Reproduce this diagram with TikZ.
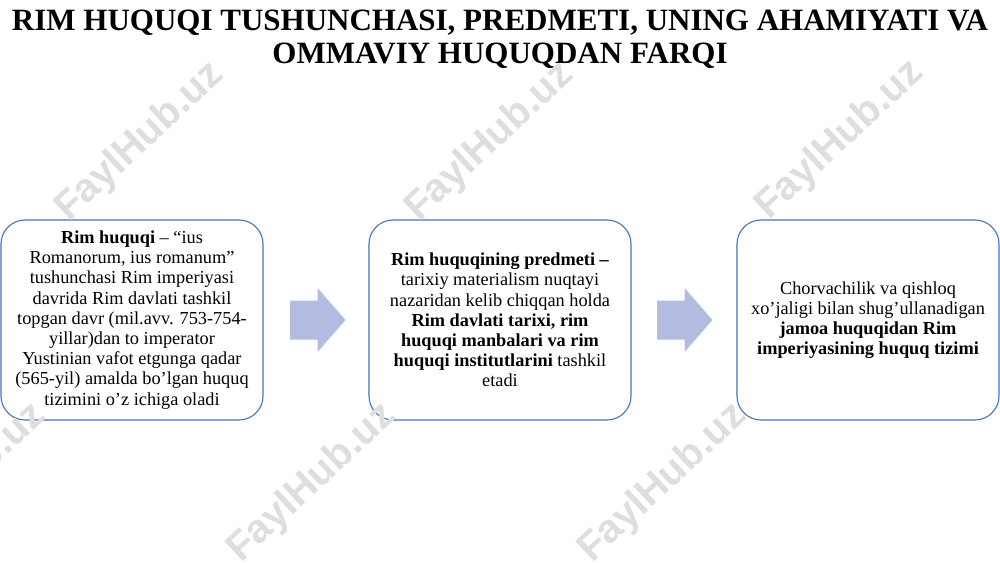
\documentclass[tikz,border=0pt]{standalone}
\usepackage{fontspec}
\setmainfont{Liberation Serif}
\newfontfamily\wmfont{Liberation Sans}
\definecolor{boxblue}{RGB}{68,114,196}
\definecolor{arrowfill}{RGB}{180,187,225}
\definecolor{wmgray}{RGB}{222,222,222}
\begin{document}
\begin{tikzpicture}[x=1pt,y=-1pt,
  card/.style={draw=boxblue, line width=1.1pt, fill=white, rounded corners=24pt,
    minimum width=262pt, minimum height=200pt, align=center, inner sep=0pt,
    font=\fontsize{18.3}{20.2}\selectfont},
  flow/.style={fill=arrowfill, draw=none},
  wm/.style={rotate=43, text=wmgray, font=\wmfont\bfseries\fontsize{40}{40}\selectfont, inner sep=0pt}
]
\useasboundingbox (0,0) rectangle (1000,562);
\fill[white] (0,0) rectangle (1000,562);

\node[font=\bfseries\fontsize{31}{33}\selectfont, align=center] (title) at (500,39)
  {RIM HUQUQI TUSHUNCHASI, PREDMETI, UNING AHAMIYATI VA\\OMMAVIY HUQUQDAN FARQI};

\node[card] (b1) at (132,320) {\textbf{Rim huquqi} – “ius\\Romanorum, ius romanum”\\tushunchasi Rim imperiyasi\\davrida Rim davlati tashkil\\topgan davr (mil.avv. 753-754-\\yillar)dan to imperator\\Yustinian vafot etgunga qadar\\(565-yil) amalda bo’lgan huquq\\tizimini o’z ichiga oladi};
\node[card] (b2) at (500,320) {\textbf{Rim huquqining predmeti –}\\tarixiy materialism nuqtayi\\nazaridan kelib chiqqan holda\\\textbf{Rim davlati tarixi, rim}\\\textbf{huquqi manbalari va rim}\\\textbf{huquqi institutlarini} tashkil\\etadi};
\node[card] (b3) at (868,320) {Chorvachilik va qishloq\\xo’jaligi bilan shug’ullanadigan\\\textbf{jamoa huquqidan Rim}\\\textbf{imperiyasining huquq tizimi}};

\coordinate (a1) at (290,320);
\coordinate (a2) at (657,320);
\fill[flow] (a1) ++(0,-19.5) -- ++(27.5,0) -- ++(0,-12.5) -- ++(28,32) -- ++(-28,32) -- ++(0,-12.5) -- ++(-27.5,0) -- cycle;
\fill[flow] (a2) ++(0,-19.5) -- ++(27.5,0) -- ++(0,-12.5) -- ++(28,32) -- ++(-28,32) -- ++(0,-12.5) -- ++(-27.5,0) -- cycle;

\node[wm] (w1) at (140,142) {FaylHub.uz};
\node[wm] (w2) at (490,142) {FaylHub.uz};
\node[wm] (w3) at (840,140) {FaylHub.uz};
\node[wm] (w4) at (-38,483) {FaylHub.uz};
\node[wm] (w5) at (312,483) {FaylHub.uz};
\node[wm] (w6) at (663,483) {FaylHub.uz};
\end{tikzpicture}
\end{document}
